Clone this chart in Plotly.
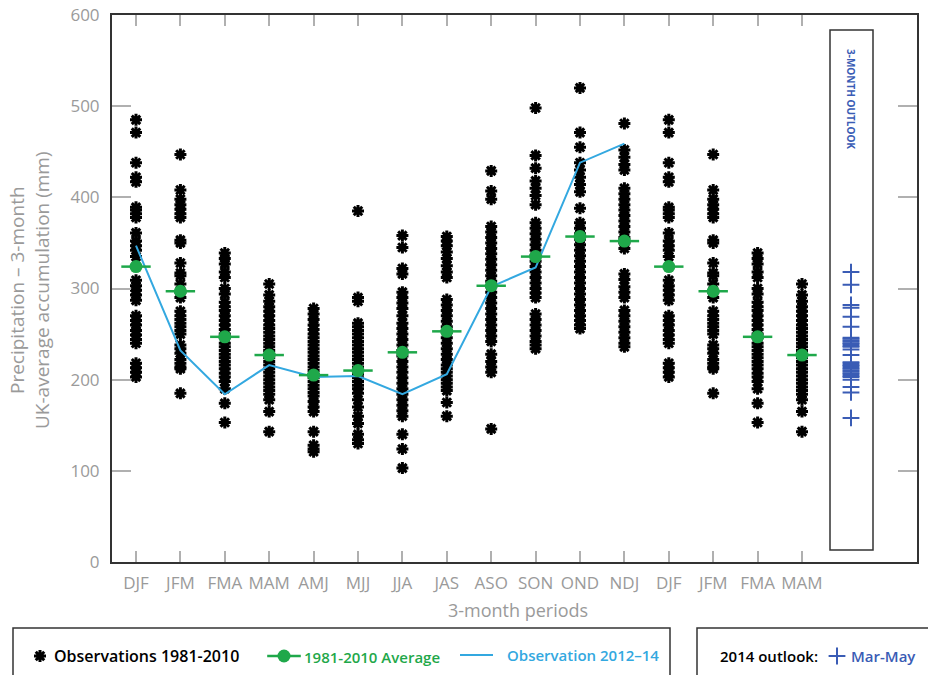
import plotly.graph_objects as go

# ---------------- data ----------------
periods = ["DJF", "JFM", "FMA", "MAM", "AMJ", "MJJ", "JJA", "JAS", "ASO", "SON",
           "OND", "NDJ", "DJF", "JFM", "FMA", "MAM"]

obs_DJF = [485, 471, 438, 422, 417, 389, 386, 382, 378, 361, 352, 347, 342, 335, 309,
           303, 298, 293, 287, 270, 265, 260, 254, 249, 244, 240, 218, 213, 208, 203]
obs_JFM = [447, 408, 398, 392, 387, 382, 378, 353, 350, 328, 317, 314, 305, 296, 290,
           275, 270, 266, 262, 258, 254, 250, 238, 234, 229, 222, 218, 214, 212, 185]
obs_FMA = [339, 333, 327, 318, 312, 300, 294, 285, 280, 276, 270, 265, 260, 255, 250,
           246, 240, 236, 232, 228, 224, 220, 216, 212, 207, 203, 198, 190, 174, 153]
obs_MAM = [305, 293, 286, 280, 275, 270, 265, 260, 256, 252, 248, 244, 240, 236, 232,
           228, 224, 220, 216, 212, 208, 204, 200, 196, 192, 188, 184, 178, 165, 143]
obs_AMJ = [278, 272, 266, 260, 255, 250, 246, 242, 238, 234, 230, 226, 222, 218, 214,
           210, 206, 202, 198, 194, 190, 186, 182, 176, 170, 165, 143, 128, 124, 121]
obs_MJJ = [385, 290, 286, 262, 258, 254, 250, 246, 242, 238, 234, 230, 226, 222, 218,
           214, 210, 206, 202, 198, 194, 190, 185, 178, 170, 160, 152, 140, 134, 130]
obs_JJA = [358, 345, 322, 316, 296, 290, 284, 278, 270, 262, 256, 250, 244, 238, 232,
           226, 220, 214, 208, 202, 196, 190, 184, 178, 172, 166, 160, 140, 124, 103]
obs_JAS = [357, 352, 347, 340, 333, 325, 318, 312, 288, 282, 276, 270, 264, 258, 252,
           246, 240, 234, 228, 222, 216, 212, 208, 204, 200, 196, 192, 188, 175, 160]
obs_ASO = [429, 407, 398, 368, 362, 356, 350, 344, 338, 332, 326, 320, 314, 308, 302,
           296, 290, 284, 278, 272, 266, 260, 254, 248, 242, 228, 220, 214, 208, 146]
obs_SON = [498, 446, 432, 418, 410, 402, 392, 372, 366, 360, 354, 348, 342, 336, 330,
           324, 318, 312, 306, 300, 295, 290, 272, 266, 260, 254, 248, 242, 238, 234]
obs_OND = [520, 471, 455, 438, 430, 422, 414, 406, 388, 372, 366, 360, 354, 348, 342,
           336, 330, 324, 318, 312, 306, 300, 294, 288, 282, 276, 270, 265, 260, 256]
obs_NDJ = [481, 452, 444, 436, 430, 410, 404, 398, 392, 386, 380, 374, 368, 362, 356,
           350, 344, 316, 310, 302, 296, 290, 276, 270, 264, 258, 252, 246, 240, 236]

avg_1981_2010 = [324, 297, 247, 227, 205, 210, 230, 253, 303, 335, 357, 352,
                 324, 297, 247, 227]
obs_2012_14 = [347, 232, 184, 216, 203, 204, 184, 206, 302, 323, 438, 459]
outlook_mar_may = [318, 304, 282, 279, 269, 258,
                   246, 245, 243, 242, 240, 239, 237, 236,
                   233, 227,
                   219, 218, 216, 215, 213, 212, 210, 209, 207, 206, 204, 203,
                   200, 192, 186, 158]

y_ticks = [0, 100, 200, 300, 400, 500, 600]

# ---------------- figure ----------------
columns = [obs_DJF, obs_JFM, obs_FMA, obs_MAM, obs_AMJ, obs_MJJ, obs_JJA, obs_JAS,
           obs_ASO, obs_SON, obs_OND, obs_NDJ, obs_DJF, obs_JFM, obs_FMA, obs_MAM]
obs_x, obs_y = [], []
for i, col in enumerate(columns):
    obs_x += [i] * len(col)
    obs_y += col

W, H = 928, 675
PX_L, PX_R, PX_T, PX_B = 112, 917, 15, 562
X_FIRST, X_STEP = 136, 44.4
xr = [(PX_L - X_FIRST) / X_STEP, (PX_R - X_FIRST) / X_STEP]
outlook_x = (851 - X_FIRST) / X_STEP

GREEN = "#1fa84a"
BLUE_LINE = "#33a8e0"
BLUE = "#3a5cb5"
GRAY = "#9a9a9a"
FONT = "Open Sans"

ast_marker = dict(symbol="asterisk-open", size=10, color="black",
                  line=dict(color="black", width=3))

fig = go.Figure()

fig.add_trace(go.Scatter(x=obs_x, y=obs_y, mode="markers", marker=ast_marker,
                         xaxis="x", yaxis="y"))

fig.add_trace(go.Scatter(
    x=list(range(len(obs_2012_14))), y=obs_2012_14, mode="lines",
    line=dict(color=BLUE_LINE, width=2), xaxis="x", yaxis="y"))

avg_x = list(range(len(avg_1981_2010)))
fig.add_trace(go.Scatter(
    x=avg_x, y=avg_1981_2010, mode="markers",
    marker=dict(symbol="line-ew-open", size=21, color=GREEN,
                line=dict(color=GREEN, width=2.5)),
    xaxis="x", yaxis="y"))
fig.add_trace(go.Scatter(
    x=avg_x, y=avg_1981_2010, mode="markers",
    marker=dict(symbol="circle", size=13, color=GREEN),
    xaxis="x", yaxis="y"))

fig.add_trace(go.Scatter(
    x=[outlook_x] * len(outlook_mar_may), y=outlook_mar_may, mode="markers",
    marker=dict(symbol="cross-thin-open", size=12, color=BLUE,
                line=dict(color=BLUE, width=2)),
    xaxis="x", yaxis="y"))

# legend symbols on a pixel-space overlay axis
fig.add_trace(go.Scatter(x=[40], y=[656], mode="markers", marker=ast_marker,
                         xaxis="x2", yaxis="y2"))
fig.add_trace(go.Scatter(
    x=[284], y=[656], mode="markers",
    marker=dict(symbol="line-ew-open", size=24, color=GREEN,
                line=dict(color=GREEN, width=2.5)),
    xaxis="x2", yaxis="y2"))
fig.add_trace(go.Scatter(
    x=[284], y=[656], mode="markers",
    marker=dict(symbol="circle", size=13, color=GREEN),
    xaxis="x2", yaxis="y2"))
fig.add_trace(go.Scatter(
    x=[837], y=[656], mode="markers",
    marker=dict(symbol="cross-thin-open", size=12, color=BLUE,
                line=dict(color=BLUE, width=2)),
    xaxis="x2", yaxis="y2"))

shapes = [
    dict(type="rect", xref="x2", yref="y2", x0=830, x1=873, y0=30, y1=550,
         line=dict(color="#333", width=1.5), fillcolor="rgba(0,0,0,0)"),
    dict(type="rect", xref="x2", yref="y2", x0=13, x1=670, y0=628, y1=700,
         line=dict(color="#333", width=1.5), fillcolor="rgba(0,0,0,0)"),
    dict(type="rect", xref="x2", yref="y2", x0=697, x1=940, y0=628, y1=700,
         line=dict(color="#333", width=1.5), fillcolor="rgba(0,0,0,0)"),
    dict(type="line", xref="x2", yref="y2", x0=460, x1=493, y0=655, y1=655,
         line=dict(color=BLUE_LINE, width=2)),
]

leg_font = dict(family=FONT, size=15, weight=600)
annotations = [
    dict(xref="paper", yref="paper", x=30 / W, y=1 - 290 / H,
         text="Precipitation \u2013 3-month<br>UK-average accumulation (mm)",
         textangle=-90, showarrow=False, xanchor="center", yanchor="middle",
         font=dict(family=FONT, size=19, color=GRAY)),
    dict(xref="paper", yref="paper", x=518 / W, y=1 - 610 / H,
         text="3-month periods", showarrow=False, xanchor="center", yanchor="middle",
         font=dict(family=FONT, size=18, color=GRAY)),
    dict(xref="x2", yref="y2", x=851, y=99, text="<b>3-MONTH OUTLOOK</b>",
         textangle=90, showarrow=False, xanchor="center", yanchor="middle",
         font=dict(family=FONT, size=10, color=BLUE)),
    dict(xref="x2", yref="y2", x=52, y=656, text="Observations 1981-2010",
         showarrow=False, xanchor="left", yanchor="middle",
         font=dict(leg_font, size=16, color="black")),
    dict(xref="x2", yref="y2", x=302, y=657, text="1981-2010 Average",
         showarrow=False, xanchor="left", yanchor="middle",
         font=dict(leg_font, color=GREEN)),
    dict(xref="x2", yref="y2", x=505, y=655, text="Observation 2012\u201314",
         showarrow=False, xanchor="left", yanchor="middle",
         font=dict(leg_font, color=BLUE_LINE)),
    dict(xref="x2", yref="y2", x=718, y=656, text="2014 outlook:",
         showarrow=False, xanchor="left", yanchor="middle",
         font=dict(leg_font, color="black")),
    dict(xref="x2", yref="y2", x=849, y=656, text="Mar-May",
         showarrow=False, xanchor="left", yanchor="middle",
         font=dict(leg_font, color=BLUE)),
]

fig.update_layout(
    width=W, height=H,
    margin=dict(l=0, r=0, t=0, b=0),
    paper_bgcolor="white", plot_bgcolor="rgba(0,0,0,0)",
    showlegend=False,
    font=dict(family=FONT, color=GRAY),
    xaxis=dict(domain=[PX_L / W, PX_R / W], range=xr,
               tickmode="array", tickvals=list(range(len(periods))), ticktext=periods,
               ticks="inside", ticklen=11, tickwidth=1.5, tickcolor="#b0b0b0",
               showline=True, linecolor="#333", linewidth=2, mirror="ticks",
               showgrid=False, zeroline=False, automargin=False,
               tickfont=dict(family=FONT, size=17, color=GRAY),
               ticklabelstandoff=5, fixedrange=True),
    yaxis=dict(domain=[1 - PX_B / H, 1 - PX_T / H], range=[0, 600],
               tickmode="array", tickvals=y_ticks,
               ticks="inside", ticklen=19, tickwidth=1.5, tickcolor="#b0b0b0",
               showline=True, linecolor="#333", linewidth=2, mirror="ticks",
               showgrid=False, zeroline=False, automargin=False,
               tickfont=dict(family=FONT, size=17, color=GRAY),
               ticklabelstandoff=7, fixedrange=True),
    xaxis2=dict(domain=[0, 1], range=[0, W], visible=False, anchor="y2",
                fixedrange=True),
    yaxis2=dict(domain=[0, 1], range=[H, 0], visible=False, anchor="x2",
                fixedrange=True),
    shapes=shapes,
    annotations=annotations,
)

fig.write_html("out.html",
               config={"displayModeBar": False},
               post_script="document.body.style.margin='0';"
                           "document.body.style.overflow='hidden';")
